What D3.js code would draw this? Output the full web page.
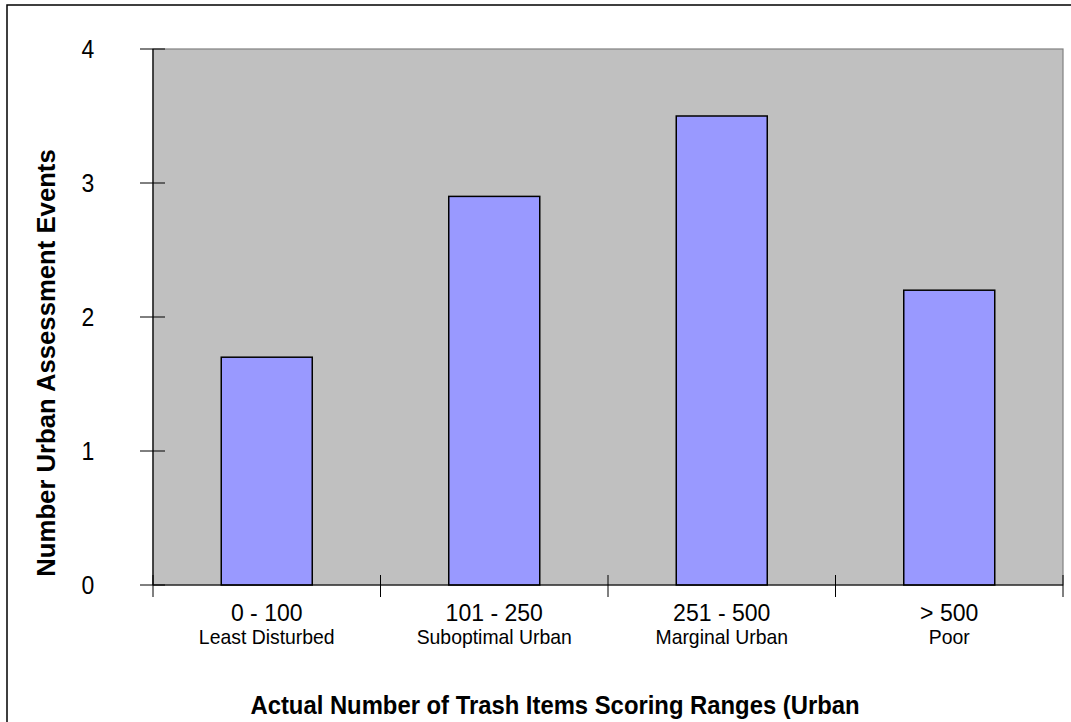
<!DOCTYPE html>
<html>
<head>
<meta charset="utf-8">
<script src="https://cdn.jsdelivr.net/npm/d3@7"></script>
<style>
  html, body { margin: 0; padding: 0; background: #fff; }
  svg { display: block; font-family: "Liberation Sans", Arial, sans-serif; }
</style>
</head>
<body>
<svg id="chart" width="1071" height="722"></svg>
<script>
const categories = ["0 - 100", "101 - 250", "251 - 500", "> 500"];
const subLabels = ["Least Disturbed", "Suboptimal Urban", "Marginal Urban", "Poor"];
const values = [1.7, 2.9, 3.5, 2.2];
const yTicks = [0, 1, 2, 3, 4];
const yTitle = "Number Urban Assessment Events";
const xTitle = "Actual Number of Trash Items Scoring Ranges (Urban";

const svg = d3.select("#chart");
const plot = { left: 153, right: 1063, top: 49, bottom: 585 };

// outer frame
svg.append("rect").attr("x", 7).attr("y", 5).attr("width", 1080).attr("height", 740)
  .attr("fill", "#fff").attr("stroke", "#000").attr("stroke-width", 1.5);

const x = d3.scaleBand().domain(categories).range([plot.left, plot.right]).paddingInner(0).paddingOuter(0);
const y = d3.scaleLinear().domain([0, 4]).range([plot.bottom, plot.top]);

// plot area
svg.append("rect").attr("x", plot.left).attr("y", plot.top)
  .attr("width", plot.right - plot.left).attr("height", plot.bottom - plot.top)
  .attr("fill", "#c0c0c0").attr("stroke", "#808080").attr("stroke-width", 1.2);

// bars
const barW = x.bandwidth() * 0.40;
svg.selectAll("rect.bar").data(values).enter().append("rect")
  .attr("class", "bar")
  .attr("x", (d, i) => x(categories[i]) + (x.bandwidth() - barW) / 2)
  .attr("y", d => y(d))
  .attr("width", barW)
  .attr("height", d => y(0) - y(d))
  .attr("fill", "#9999ff").attr("stroke", "#000").attr("stroke-width", 1.5);

// axis lines
svg.append("line").attr("x1", plot.left).attr("x2", plot.left)
  .attr("y1", plot.top).attr("y2", plot.bottom).attr("stroke", "#000").attr("stroke-width", 1.2);
svg.append("line").attr("x1", plot.left).attr("x2", plot.right)
  .attr("y1", plot.bottom).attr("y2", plot.bottom).attr("stroke", "#000").attr("stroke-width", 1.2);

// y ticks
svg.selectAll("line.ytick").data(yTicks).enter().append("line")
  .attr("x1", plot.left - 13).attr("x2", plot.left + 12)
  .attr("y1", d => y(d)).attr("y2", d => y(d))
  .attr("stroke", "#000").attr("stroke-width", 1);
svg.selectAll("text.ylab").data(yTicks).enter().append("text")
  .attr("transform", d => `translate(88,${y(d) + 8.5}) scale(0.92,1)`)
  .attr("text-anchor", "middle").attr("font-size", 25).attr("fill", "#000")
  .text(d => d);

// x ticks at band boundaries
const xBounds = categories.map(c => x(c)).concat([plot.right]);
svg.selectAll("line.xtick").data(xBounds).enter().append("line")
  .attr("x1", d => d).attr("x2", d => d)
  .attr("y1", plot.bottom - 10).attr("y2", plot.bottom + 12)
  .attr("stroke", "#000").attr("stroke-width", 1);

// x labels
svg.selectAll("text.xlab").data(categories).enter().append("text")
  .attr("transform", d => `translate(${x(d) + x.bandwidth() / 2},621) scale(0.96,1)`)
  .attr("text-anchor", "middle").attr("font-size", 24).attr("fill", "#000")
  .text(d => d);
svg.selectAll("text.xsub").data(subLabels).enter().append("text")
  .attr("transform", (d, i) => `translate(${x(categories[i]) + x.bandwidth() / 2},644) scale(0.97,1)`)
  .attr("text-anchor", "middle").attr("font-size", 20).attr("fill", "#000")
  .text(d => d);

// y title
svg.append("text")
  .attr("transform", "translate(55,363) rotate(-90) scale(0.97,1)")
  .attr("text-anchor", "middle").attr("font-size", 26.5).attr("font-weight", "bold")
  .text(yTitle);

// x title
svg.append("text")
  .attr("transform", "translate(555,714) scale(0.9,1)")
  .attr("text-anchor", "middle").attr("font-size", 26.5).attr("font-weight", "bold")
  .text(xTitle);
</script>
</body>
</html>
